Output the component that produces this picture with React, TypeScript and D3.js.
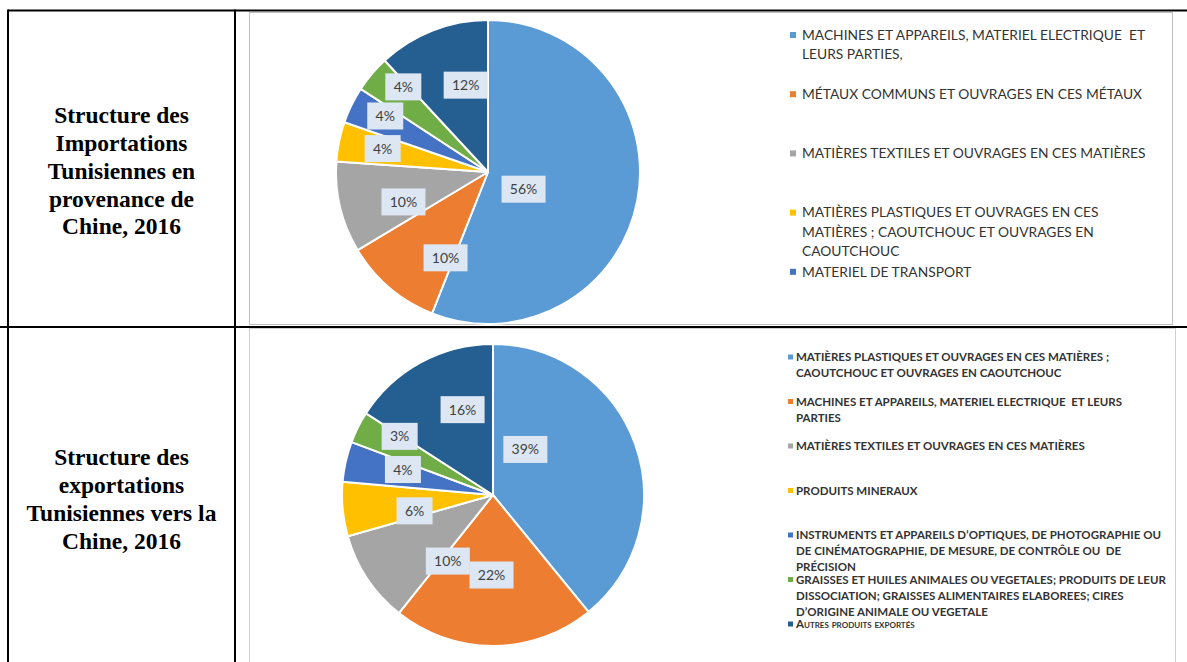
import * as d3 from "d3";

// Slice colours (Office palette), same order for both pies
const sliceColors = ["#5B9BD5", "#ED7D31", "#A5A5A5", "#FFC000", "#4472C4", "#70AD47", "#255E91"];

// Imports from China, 2016 (shares, %)
const importValues = [56, 10.4, 9.7, 4.2, 3.9, 3.9, 11.9];
const importTitle = ["Structure des", "Importations", "Tunisiennes en", "provenance de", "Chine, 2016"];
const importLegend = [
  ["MACHINES ET APPAREILS, MATERIEL ELECTRIQUE  ET", "LEURS PARTIES,"],
  ["MÉTAUX COMMUNS ET OUVRAGES EN CES MÉTAUX"],
  ["MATIÈRES TEXTILES ET OUVRAGES EN CES MATIÈRES"],
  ["MATIÈRES PLASTIQUES ET OUVRAGES EN CES", "MATIÈRES ; CAOUTCHOUC ET OUVRAGES EN", "CAOUTCHOUC"],
  ["MATERIEL DE TRANSPORT"],
];

// Exports to China, 2016 (shares, %)
const exportValues = [39.1, 21.6, 9.9, 5.8, 4.3, 3.4, 15.9];
const exportTitle = ["Structure des", "exportations", "Tunisiennes vers la", "Chine, 2016"];
const exportLegend = [
  ["MATIÈRES PLASTIQUES ET OUVRAGES EN CES MATIÈRES ;", "CAOUTCHOUC ET OUVRAGES EN CAOUTCHOUC"],
  ["MACHINES ET APPAREILS, MATERIEL ELECTRIQUE  ET LEURS", "PARTIES"],
  ["MATIÈRES TEXTILES ET OUVRAGES EN CES MATIÈRES"],
  ["PRODUITS MINERAUX"],
  ["INSTRUMENTS ET APPAREILS D’OPTIQUES, DE PHOTOGRAPHIE OU", "DE CINÉMATOGRAPHIE, DE MESURE, DE CONTRÔLE OU  DE", "PRÉCISION"],
  ["GRAISSES ET HUILES ANIMALES OU VEGETALES; PRODUITS DE LEUR", "DISSOCIATION; GRAISSES ALIMENTAIRES ELABOREES; CIRES", "D’ORIGINE ANIMALE OU VEGETALE"],
  ["Autres produits exportés"],
];

// data label placement (Excel "best fit" look): radius fraction and angle nudge in degrees
const importLabelR = [0.26, 0.63, 0.59, 0.71, 0.77, 0.79, 0.59];
const importLabelShift = [15, -14, -6, 1, 2.5, 5, 7];
const exportLabelR = [0.37, 0.53, 0.53, 0.53, 0.62, 0.73, 0.6];
const exportLabelShift = [-35, 1.4, -22, -6, 3, 5.5, 9];

const W = 1187;
const H = 662;

interface PieProps {
  values: number[];
  cx: number;
  cy: number;
  r: number;
  labelR: number[];
  labelShift: number[];
}

const Pie = ({ values, cx, cy, r, labelR, labelShift }: PieProps) => {
  const pie = d3.pie<number>().sort(null).value((d) => d);
  const arcs = pie(values);
  const arc = d3.arc<d3.PieArcDatum<number>>().innerRadius(0).outerRadius(r);
  const total = d3.sum(values);
  return (
    <g transform={`translate(${cx},${cy})`}>
      {arcs.map((a, i) => (
        <path key={i} d={arc(a) || ""} fill={sliceColors[i]} stroke="#fff" strokeWidth={2} strokeLinejoin="round" />
      ))}
      {arcs.map((a, i) => {
        const ang = (a.startAngle + a.endAngle) / 2 + (labelShift[i] * Math.PI) / 180;
        const lr = labelR[i] * r;
        const [x, y] = d3
          .arc<any>()
          .innerRadius(lr)
          .outerRadius(lr)
          .centroid({ startAngle: ang, endAngle: ang } as any);
        const txt = `${Math.round((a.value / total) * 100)}%`;
        const bw = txt.length * 8 + 20;
        return (
          <g key={"l" + i} transform={`translate(${x},${y})`}>
            <rect x={-bw / 2} y={-13.5} width={bw} height={27} fill="#DDE7F3" />
            <text
              textAnchor="middle"
              dy="0.36em"
              fontFamily="Lato, 'Open Sans', sans-serif"
              fontSize={14}
              fill="#404040"
            >
              {txt}
            </text>
          </g>
        );
      })}
    </g>
  );
};

const App = () => {
  const titleFont = "'Liberation Serif', 'Times New Roman', serif";
  return (
    <svg width={W} height={H} style={{ position: "absolute", left: 0, top: 0, background: "#fff" }}>
      {/* chart frames */}
      <rect x={249.5} y={12.5} width={923} height={312} fill="#fff" stroke="#BFBFBF" strokeWidth={1} />
      <rect x={249.5} y={328.5} width={926} height={350} fill="#fff" stroke="#D0D0D0" strokeWidth={1} />

      {/* table rules */}
      <line x1={8} x2={W} y1={10.5} y2={10.5} stroke="#000" strokeWidth={2} />
      <line x1={0} x2={W} y1={327} y2={327} stroke="#000" strokeWidth={2} />
      <line x1={8} x2={8} y1={9.5} y2={H} stroke="#000" strokeWidth={2} />
      <line x1={235} x2={235} y1={9.5} y2={H} stroke="#000" strokeWidth={2} />

      {/* row titles */}
      <text textAnchor="middle" fontFamily={titleFont} fontWeight="bold" fontSize={23.5} fill="#000">
        {importTitle.map((t, i) => (
          <tspan key={i} x={121.5} y={115 + i * 27.8} dy="0.35em">
            {t}
          </tspan>
        ))}
      </text>
      <text textAnchor="middle" fontFamily={titleFont} fontWeight="bold" fontSize={23.5} fill="#000">
        {exportTitle.map((t, i) => (
          <tspan key={i} x={121.5} y={457 + i * 27.8} dy="0.35em">
            {t}
          </tspan>
        ))}
      </text>

      <Pie values={importValues} cx={488} cy={172} r={152} labelR={importLabelR} labelShift={importLabelShift} />
      <Pie values={exportValues} cx={493} cy={495} r={151} labelR={exportLabelR} labelShift={exportLabelShift} />

      {/* import legend */}
      <g fontFamily="Lato, 'Open Sans', sans-serif" fontSize={13.8} fill="#333">
        {importLegend.map((lines, i) => {
          const y0 = 35 + i * 59.2;
          return (
            <g key={i}>
              <rect x={790} y={y0 - 3} width={6} height={6} fill={sliceColors[i]} />
              <text style={{ whiteSpace: "pre" }}>
                {lines.map((l, j) => (
                  <tspan key={j} x={802} y={y0 + j * 19.5} dy="0.35em">
                    {l}
                  </tspan>
                ))}
              </text>
            </g>
          );
        })}
      </g>

      {/* export legend */}
      <g fontFamily="Lato, 'Open Sans', sans-serif" fontSize={11.5} fontWeight="bold" fill="#333">
        {exportLegend.map((lines, i) => {
          const y0 = 357 + i * 44.5;
          const last = i === exportLegend.length - 1;
          return (
            <g key={i}>
              <rect x={788} y={y0 - 2.5} width={5} height={5} fill={sliceColors[i]} />
              <text style={{ whiteSpace: "pre", fontVariant: last ? "small-caps" : "normal" }}>
                {lines.map((l, j) => (
                  <tspan key={j} x={796} y={y0 + j * 16.2} dy="0.35em">
                    {l}
                  </tspan>
                ))}
              </text>
            </g>
          );
        })}
      </g>
    </svg>
  );
};

export default App;
